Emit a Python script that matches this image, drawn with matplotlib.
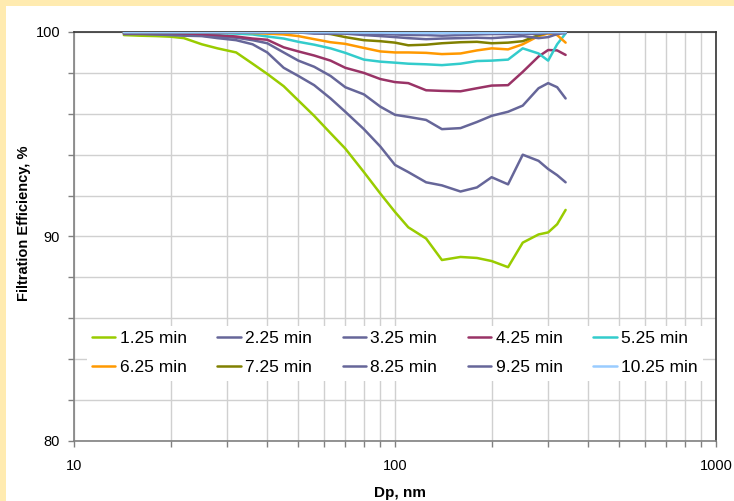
import matplotlib
matplotlib.use("Agg")
import matplotlib.pyplot as plt
from matplotlib.patches import Rectangle
from matplotlib.ticker import FixedLocator, NullFormatter, FixedFormatter

plt.rcParams["font.family"] = ["Liberation Sans", "DejaVu Sans"]

# Particle mobility diameter (nm)
dp_nm = [14.3, 16, 18, 20, 22, 25, 28, 32, 36, 40, 45, 50, 56, 63, 70,
         80, 90, 100, 110, 125, 140, 160, 180, 200, 225, 250, 280, 300, 320, 340]

# Filtration efficiency (%) at each loading time
eff_1_25 = [99.85, 99.82, 99.80, 99.77, 99.70, 99.40, 99.20, 99.00, 98.45, 97.95,
            97.35, 96.65, 95.90, 95.05, 94.30, 93.15, 92.10, 91.20, 90.45, 89.90,
            88.85, 89.00, 88.95, 88.80, 88.50, 89.70, 90.10, 90.20, 90.60, 91.30]
eff_2_25 = [99.90, 99.90, 99.88, 99.85, 99.82, 99.80, 99.70, 99.60, 99.40, 99.00,
            98.25, 97.85, 97.40, 96.75, 96.10, 95.25, 94.40, 93.50, 93.15, 92.65,
            92.50, 92.20, 92.40, 92.90, 92.55, 94.00, 93.70, 93.30, 93.00, 92.65]
eff_3_25 = [99.92, 99.92, 99.90, 99.88, 99.85, 99.82, 99.78, 99.72, 99.60, 99.45,
            99.00, 98.60, 98.30, 97.85, 97.30, 96.95, 96.35, 95.95, 95.85, 95.70,
            95.25, 95.30, 95.60, 95.90, 96.10, 96.40, 97.25, 97.50, 97.30, 96.75]
eff_4_25 = [99.95, 99.95, 99.95, 99.95, 99.93, 99.90, 99.85, 99.78, 99.68, 99.62,
            99.25, 99.05, 98.85, 98.60, 98.25, 98.00, 97.70, 97.55, 97.50, 97.15,
            97.12, 97.10, 97.25, 97.38, 97.40, 98.05, 98.80, 99.12, 99.10, 98.88]
eff_5_25 = [99.97, 99.97, 99.97, 99.97, 99.97, 99.97, 99.95, 99.92, 99.88, 99.78,
            99.68, 99.52, 99.38, 99.20, 98.98, 98.65, 98.55, 98.50, 98.45, 98.42,
            98.38, 98.45, 98.58, 98.60, 98.65, 99.20, 98.95, 98.60, 99.40, 99.93]
eff_6_25 = [99.98, 99.98, 99.98, 99.98, 99.98, 99.98, 99.98, 99.98, 99.95, 99.92,
            99.88, 99.80, 99.65, 99.50, 99.42, 99.22, 99.05, 99.00, 99.00, 98.98,
            98.92, 98.95, 99.10, 99.20, 99.15, 99.40, 99.80, 99.93, 99.85, 99.48]
eff_7_25 = [99.97, 99.97, 99.97, 99.97, 99.97, 99.97, 99.97, 99.97, 99.97, 99.97,
            99.97, 99.97, 99.97, 99.90, 99.75, 99.60, 99.55, 99.48, 99.35, 99.38,
            99.45, 99.50, 99.52, 99.45, 99.48, 99.55, 99.85, 99.98, 99.98, 99.98]
eff_8_25 = [99.98, 99.98, 99.98, 99.98, 99.98, 99.98, 99.98, 99.98, 99.98, 99.98,
            99.98, 99.98, 99.92, 99.92, 99.92, 99.85, 99.80, 99.75, 99.70, 99.65,
            99.68, 99.70, 99.72, 99.70, 99.75, 99.80, 99.70, 99.75, 99.90, 99.95]
eff_9_25 = [99.99, 99.99, 99.99, 99.99, 99.99, 99.99, 99.99, 99.99, 99.99, 99.99,
            99.99, 99.99, 99.99, 99.99, 99.95, 99.92, 99.90, 99.88, 99.85, 99.85,
            99.82, 99.85, 99.88, 99.90, 99.90, 99.92, 99.90, 99.95, 99.97, 99.98]
eff_10_25 = [99.99, 99.99, 99.99, 99.99, 99.99, 99.99, 99.99, 99.99, 99.99, 99.99,
             99.99, 99.99, 99.99, 99.99, 99.98, 99.97, 99.97, 99.96, 99.96, 99.95,
             99.95, 99.95, 99.96, 99.96, 99.97, 99.97, 99.98, 99.99, 99.99, 99.99]

series_labels = ["1.25 min", "2.25 min", "3.25 min", "4.25 min", "5.25 min",
                 "6.25 min", "7.25 min", "8.25 min", "9.25 min", "10.25 min"]
series_values = [eff_1_25, eff_2_25, eff_3_25, eff_4_25, eff_5_25,
                 eff_6_25, eff_7_25, eff_8_25, eff_9_25, eff_10_25]
series_colors = ["#99CC00", "#666699", "#666699", "#993366", "#33CCCC",
                 "#FF9900", "#808000", "#666699", "#666699", "#99CCFF"]

x_major = [10, 100, 1000]
x_major_labels = ["10", "100", "1000"]
y_ticks = [80, 82, 84, 86, 88, 90, 92, 94, 96, 98, 100]
y_labeled = {80: "80", 90: "90", 100: "100"}

W, H = 734, 501
fig = plt.figure(figsize=(W / 100, H / 100), dpi=100)
fig.patch.set_facecolor("white")

# cream frame strips along the top and left edges
fig.patches.append(Rectangle((0, 1 - 6 / H), 1, 6 / H, transform=fig.transFigure,
                             facecolor="#FFEBB0", edgecolor="none", zorder=0))
fig.patches.append(Rectangle((0, 0), 6 / W, 1, transform=fig.transFigure,
                             facecolor="#FFEBB0", edgecolor="none", zorder=0))

ax = fig.add_axes([74 / W, 1 - 441 / H, (716 - 74) / W, (441 - 32) / H])
ax.set_xscale("log")
ax.set_xlim(10, 1000)
ax.set_ylim(80, 100)

handles = []
for vals, col, lab in zip(series_values, series_colors, series_labels):
    h, = ax.plot(dp_nm, vals, color=col, lw=1.8, label=lab, zorder=3,
                 solid_joinstyle="round", solid_capstyle="round")
    handles.append(h)

# axes ticks and grid
minor_x = [m * d for d in (10, 100) for m in range(2, 10)]
ax.xaxis.set_major_locator(FixedLocator(x_major))
ax.xaxis.set_major_formatter(FixedFormatter(x_major_labels))
ax.xaxis.set_minor_locator(FixedLocator(minor_x))
ax.xaxis.set_minor_formatter(NullFormatter())
ax.yaxis.set_major_locator(FixedLocator(y_ticks))
ax.yaxis.set_major_formatter(FixedFormatter([y_labeled.get(t, "") for t in y_ticks]))

ax.grid(True, which="major", axis="both", color="#D0D0D0", lw=1.0, zorder=1)
ax.grid(True, which="minor", axis="x", color="#D0D0D0", lw=1.0, zorder=1)
ax.set_axisbelow(True)

ax.tick_params(axis="both", which="both", direction="out", color="#808080",
               length=4, width=1.0, labelsize=10.5, labelcolor="black")
ax.tick_params(axis="y", pad=6)
ax.tick_params(axis="x", which="major", pad=9)

for side in ("left", "bottom"):
    ax.spines[side].set_color("#808080")
    ax.spines[side].set_linewidth(1.2)
for side in ("top", "right"):
    ax.spines[side].set_color("#333333")
    ax.spines[side].set_linewidth(1.2)

ax.set_xlabel("Dp, nm", fontsize=11, fontweight="bold")
ax.xaxis.set_label_coords((400 - 74) / 642, (441 - 486) / 409)
ax.set_ylabel("Filtration Efficiency, %", fontsize=10.5, fontweight="bold")
ax.yaxis.set_label_coords((31 - 74) / 642, (441 - 223) / 409)

# legend filled row by row: five entries per row
ncol = 5
order = [r * ncol + c for c in range(ncol) for r in range(2)]
leg = ax.legend([handles[i] for i in order], [series_labels[i] for i in order],
                ncol=ncol, loc="upper left", bbox_to_anchor=(0.02, 0.281),
                borderaxespad=0, frameon=True, fancybox=False, fontsize=12.5,
                handlelength=1.35, handletextpad=0.25, columnspacing=1.76,
                labelspacing=0.8, borderpad=0.3)
leg.get_frame().set_facecolor("white")
leg.get_frame().set_edgecolor("none")
leg.get_frame().set_alpha(1.0)
for line in leg.get_lines():
    line.set_linewidth(1.8)

fig.savefig("out.png", dpi=100)
